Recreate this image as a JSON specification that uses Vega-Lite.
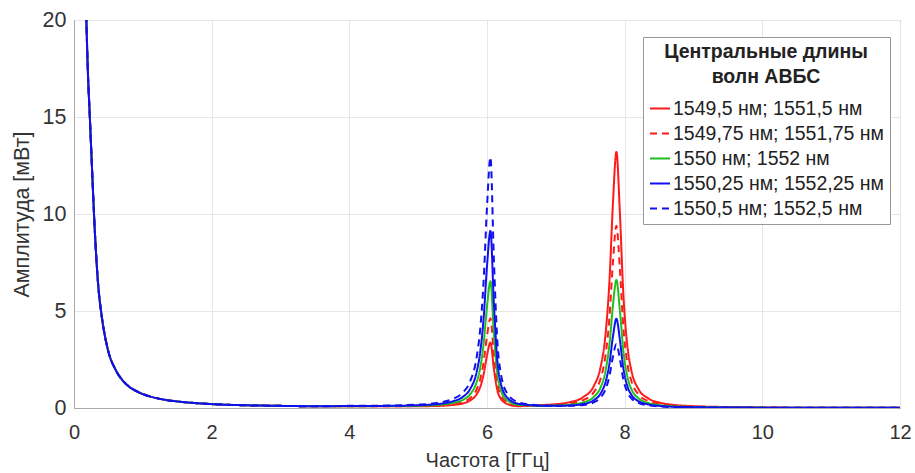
{
  "$schema": "https://vega.github.io/schema/vega-lite/v6.json",
  "width": 826,
  "height": 388,
  "autosize": {"type": "none"},
  "padding": {"left": 74, "top": 20, "right": 15, "bottom": 65},
  "background": "white",
  "config": {
    "font": "Liberation Sans",
    "view": {"stroke": "#666", "strokeWidth": 1},
    "axis": {
      "labelFont": "Liberation Sans",
      "titleFont": "Liberation Sans",
      "labelFontSize": 20,
      "titleFontSize": 20,
      "titleFontWeight": "normal",
      "labelColor": "#333",
      "titleColor": "#333",
      "gridColor": "#e6e6e6",
      "gridWidth": 1,
      "domainColor": "#aaa",
      "ticks": false
    },
    "legend": {
      "labelFont": "Liberation Sans",
      "titleFont": "Liberation Sans"
    }
  },
  "data": {
    "values": [
      {"f":0.17,"s":"a","v":21.5},{"f":0.18,"s":"a","v":20},{"f":0.2,"s":"a","v":17.5},{"f":0.23,"s":"a","v":15},{"f":0.26,"s":"a","v":12.5},{"f":0.3,"s":"a","v":9.3},{"f":0.35,"s":"a","v":6.4},{"f":0.4,"s":"a","v":4.8},{"f":0.45,"s":"a","v":3.7},{"f":0.5,"s":"a","v":2.9},{"f":0.6,"s":"a","v":2.0},{"f":0.7,"s":"a","v":1.45},{"f":0.8,"s":"a","v":1.1},{"f":0.9,"s":"a","v":0.88},{"f":1.0,"s":"a","v":0.72},{"f":1.25,"s":"a","v":0.47},{"f":1.5,"s":"a","v":0.34},{"f":2.0,"s":"a","v":0.2},{"f":2.5,"s":"a","v":0.14},{"f":3.0,"s":"a","v":0.11},{"f":3.5,"s":"a","v":0.09},
      {"f":4.0,"s":"a","v":0.088},{"f":4.5,"s":"a","v":0.084},{"f":5.0,"s":"a","v":0.09},{"f":5.3,"s":"a","v":0.109},{"f":5.5,"s":"a","v":0.157},{"f":5.65,"s":"a","v":0.237},{"f":5.75,"s":"a","v":0.375},{"f":5.85,"s":"a","v":0.71},{"f":5.9,"s":"a","v":1.07},{"f":5.95,"s":"a","v":1.715},{"f":6.0,"s":"a","v":2.71},{"f":6.05,"s":"a","v":3.38},{"f":6.1,"s":"a","v":2.01},{"f":6.15,"s":"a","v":0.918},{"f":6.2,"s":"a","v":0.482},{"f":6.3,"s":"a","v":0.201},{"f":6.45,"s":"a","v":0.094},{"f":6.6,"s":"a","v":0.11},{"f":6.8,"s":"a","v":0.152},{"f":7.0,"s":"a","v":0.197},{"f":7.2,"s":"a","v":0.3},{"f":7.4,"s":"a","v":0.565},{"f":7.55,"s":"a","v":1.12},{"f":7.65,"s":"a","v":2.11},{"f":7.72,"s":"a","v":3.72},{"f":7.78,"s":"a","v":6.615},{"f":7.83,"s":"a","v":10.57},{"f":7.88,"s":"a","v":13.2},{"f":7.93,"s":"a","v":10.1},{"f":7.98,"s":"a","v":5.92},{"f":8.04,"s":"a","v":3.18},{"f":8.1,"s":"a","v":1.9},{"f":8.2,"s":"a","v":0.98},{"f":8.35,"s":"a","v":0.48},{"f":8.5,"s":"a","v":0.285},{"f":8.7,"s":"a","v":0.167},{"f":9.0,"s":"a","v":0.094},{"f":9.5,"s":"a","v":0.05},{"f":10,"s":"a","v":0.03},{"f":11,"s":"a","v":0.01},{"f":12,"s":"a","v":0.01},

      {"f":0.17,"s":"b","v":21.5},{"f":0.18,"s":"b","v":20},{"f":0.2,"s":"b","v":17.5},{"f":0.23,"s":"b","v":15},{"f":0.26,"s":"b","v":12.5},{"f":0.3,"s":"b","v":9.3},{"f":0.35,"s":"b","v":6.4},{"f":0.4,"s":"b","v":4.8},{"f":0.45,"s":"b","v":3.7},{"f":0.5,"s":"b","v":2.9},{"f":0.6,"s":"b","v":2.0},{"f":0.7,"s":"b","v":1.45},{"f":0.8,"s":"b","v":1.1},{"f":0.9,"s":"b","v":0.88},{"f":1.0,"s":"b","v":0.72},{"f":1.25,"s":"b","v":0.47},{"f":1.5,"s":"b","v":0.34},{"f":2.0,"s":"b","v":0.2},{"f":2.5,"s":"b","v":0.14},{"f":3.0,"s":"b","v":0.11},{"f":3.5,"s":"b","v":0.09},
      {"f":4.0,"s":"b","v":0.091},{"f":4.5,"s":"b","v":0.089},{"f":5.0,"s":"b","v":0.101},{"f":5.3,"s":"b","v":0.131},{"f":5.5,"s":"b","v":0.197},{"f":5.65,"s":"b","v":0.31},{"f":5.75,"s":"b","v":0.5},{"f":5.85,"s":"b","v":0.96},{"f":5.9,"s":"b","v":1.46},{"f":5.95,"s":"b","v":2.34},{"f":6.0,"s":"b","v":3.71},{"f":6.05,"s":"b","v":4.63},{"f":6.1,"s":"b","v":2.74},{"f":6.15,"s":"b","v":1.25},{"f":6.2,"s":"b","v":0.655},{"f":6.3,"s":"b","v":0.268},{"f":6.45,"s":"b","v":0.121},{"f":6.6,"s":"b","v":0.115},{"f":6.8,"s":"b","v":0.128},{"f":7.0,"s":"b","v":0.153},{"f":7.2,"s":"b","v":0.223},{"f":7.4,"s":"b","v":0.407},{"f":7.55,"s":"b","v":0.805},{"f":7.65,"s":"b","v":1.51},{"f":7.72,"s":"b","v":2.66},{"f":7.78,"s":"b","v":4.715},{"f":7.83,"s":"b","v":7.535},{"f":7.88,"s":"b","v":9.4},{"f":7.93,"s":"b","v":7.2},{"f":7.98,"s":"b","v":4.22},{"f":8.04,"s":"b","v":2.27},{"f":8.1,"s":"b","v":1.36},{"f":8.2,"s":"b","v":0.7},{"f":8.35,"s":"b","v":0.35},{"f":8.5,"s":"b","v":0.21},{"f":8.7,"s":"b","v":0.122},{"f":9.0,"s":"b","v":0.07},{"f":9.5,"s":"b","v":0.038},{"f":10,"s":"b","v":0.025},{"f":11,"s":"b","v":0.01},{"f":12,"s":"b","v":0.01},

      {"f":0.17,"s":"c","v":21.5},{"f":0.18,"s":"c","v":20},{"f":0.2,"s":"c","v":17.5},{"f":0.23,"s":"c","v":15},{"f":0.26,"s":"c","v":12.5},{"f":0.3,"s":"c","v":9.3},{"f":0.35,"s":"c","v":6.4},{"f":0.4,"s":"c","v":4.8},{"f":0.45,"s":"c","v":3.7},{"f":0.5,"s":"c","v":2.9},{"f":0.6,"s":"c","v":2.0},{"f":0.7,"s":"c","v":1.45},{"f":0.8,"s":"c","v":1.1},{"f":0.9,"s":"c","v":0.88},{"f":1.0,"s":"c","v":0.72},{"f":1.25,"s":"c","v":0.47},{"f":1.5,"s":"c","v":0.34},{"f":2.0,"s":"c","v":0.2},{"f":2.5,"s":"c","v":0.14},{"f":3.0,"s":"c","v":0.11},{"f":3.5,"s":"c","v":0.09},
      {"f":4.0,"s":"c","v":0.096},{"f":4.5,"s":"c","v":0.097},{"f":5.0,"s":"c","v":0.119},{"f":5.3,"s":"c","v":0.164},{"f":5.5,"s":"c","v":0.258},{"f":5.65,"s":"c","v":0.422},{"f":5.75,"s":"c","v":0.69},{"f":5.85,"s":"c","v":1.34},{"f":5.9,"s":"c","v":2.04},{"f":5.95,"s":"c","v":3.29},{"f":6.0,"s":"c","v":5.23},{"f":6.05,"s":"c","v":6.53},{"f":6.1,"s":"c","v":3.865},{"f":6.15,"s":"c","v":1.75},{"f":6.2,"s":"c","v":0.917},{"f":6.3,"s":"c","v":0.371},{"f":6.45,"s":"c","v":0.163},{"f":6.6,"s":"c","v":0.135},{"f":6.8,"s":"c","v":0.115},{"f":7.0,"s":"c","v":0.126},{"f":7.2,"s":"c","v":0.168},{"f":7.4,"s":"c","v":0.29},{"f":7.55,"s":"c","v":0.57},{"f":7.65,"s":"c","v":1.06},{"f":7.72,"s":"c","v":1.87},{"f":7.78,"s":"c","v":3.315},{"f":7.83,"s":"c","v":5.295},{"f":7.88,"s":"c","v":6.6},{"f":7.93,"s":"c","v":5.06},{"f":7.98,"s":"c","v":2.965},{"f":8.04,"s":"c","v":1.6},{"f":8.1,"s":"c","v":0.96},{"f":8.2,"s":"c","v":0.5},{"f":8.35,"s":"c","v":0.25},{"f":8.5,"s":"c","v":0.15},{"f":8.7,"s":"c","v":0.09},{"f":9.0,"s":"c","v":0.052},{"f":9.5,"s":"c","v":0.03},{"f":10,"s":"c","v":0.02},{"f":11,"s":"c","v":0.01},{"f":12,"s":"c","v":0.01},

      {"f":0.17,"s":"d","v":21.5},{"f":0.18,"s":"d","v":20},{"f":0.2,"s":"d","v":17.5},{"f":0.23,"s":"d","v":15},{"f":0.26,"s":"d","v":12.5},{"f":0.3,"s":"d","v":9.3},{"f":0.35,"s":"d","v":6.4},{"f":0.4,"s":"d","v":4.8},{"f":0.45,"s":"d","v":3.7},{"f":0.5,"s":"d","v":2.9},{"f":0.6,"s":"d","v":2.0},{"f":0.7,"s":"d","v":1.45},{"f":0.8,"s":"d","v":1.1},{"f":0.9,"s":"d","v":0.88},{"f":1.0,"s":"d","v":0.72},{"f":1.25,"s":"d","v":0.47},{"f":1.5,"s":"d","v":0.34},{"f":2.0,"s":"d","v":0.2},{"f":2.5,"s":"d","v":0.14},{"f":3.0,"s":"d","v":0.11},{"f":3.5,"s":"d","v":0.09},
      {"f":4.0,"s":"d","v":0.102},{"f":4.5,"s":"d","v":0.108},{"f":5.0,"s":"d","v":0.142},{"f":5.3,"s":"d","v":0.209},{"f":5.5,"s":"d","v":0.341},{"f":5.65,"s":"d","v":0.575},{"f":5.75,"s":"d","v":0.95},{"f":5.85,"s":"d","v":1.86},{"f":5.9,"s":"d","v":2.84},{"f":5.95,"s":"d","v":4.59},{"f":6.0,"s":"d","v":7.31},{"f":6.05,"s":"d","v":9.13},{"f":6.1,"s":"d","v":5.4},{"f":6.15,"s":"d","v":2.44},{"f":6.2,"s":"d","v":1.28},{"f":6.3,"s":"d","v":0.511},{"f":6.45,"s":"d","v":0.22},{"f":6.6,"s":"d","v":0.154},{"f":6.8,"s":"d","v":0.114},{"f":7.0,"s":"d","v":0.11},{"f":7.2,"s":"d","v":0.13},{"f":7.4,"s":"d","v":0.207},{"f":7.55,"s":"d","v":0.4},{"f":7.65,"s":"d","v":0.746},{"f":7.72,"s":"d","v":1.31},{"f":7.78,"s":"d","v":2.315},{"f":7.83,"s":"d","v":3.695},{"f":7.88,"s":"d","v":4.6},{"f":7.93,"s":"d","v":3.53},{"f":7.98,"s":"d","v":2.07},{"f":8.04,"s":"d","v":1.12},{"f":8.1,"s":"d","v":0.67},{"f":8.2,"s":"d","v":0.35},{"f":8.35,"s":"d","v":0.18},{"f":8.5,"s":"d","v":0.11},{"f":8.7,"s":"d","v":0.065},{"f":9.0,"s":"d","v":0.04},{"f":9.5,"s":"d","v":0.024},{"f":10,"s":"d","v":0.018},{"f":11,"s":"d","v":0.01},{"f":12,"s":"d","v":0.01},

      {"f":0.17,"s":"e","v":21.5},{"f":0.18,"s":"e","v":20},{"f":0.2,"s":"e","v":17.5},{"f":0.23,"s":"e","v":15},{"f":0.26,"s":"e","v":12.5},{"f":0.3,"s":"e","v":9.3},{"f":0.35,"s":"e","v":6.4},{"f":0.4,"s":"e","v":4.8},{"f":0.45,"s":"e","v":3.7},{"f":0.5,"s":"e","v":2.9},{"f":0.6,"s":"e","v":2.0},{"f":0.7,"s":"e","v":1.45},{"f":0.8,"s":"e","v":1.1},{"f":0.9,"s":"e","v":0.88},{"f":1.0,"s":"e","v":0.72},{"f":1.25,"s":"e","v":0.47},{"f":1.5,"s":"e","v":0.34},{"f":2.0,"s":"e","v":0.2},{"f":2.5,"s":"e","v":0.14},{"f":3.0,"s":"e","v":0.11},{"f":3.5,"s":"e","v":0.09},
      {"f":4.0,"s":"e","v":0.111},{"f":4.5,"s":"e","v":0.124},{"f":5.0,"s":"e","v":0.176},{"f":5.3,"s":"e","v":0.276},{"f":5.5,"s":"e","v":0.463},{"f":5.65,"s":"e","v":0.799},{"f":5.75,"s":"e","v":1.33},{"f":5.85,"s":"e","v":2.62},{"f":5.9,"s":"e","v":4.01},{"f":5.95,"s":"e","v":6.49},{"f":6.0,"s":"e","v":10.35},{"f":6.05,"s":"e","v":12.93},{"f":6.1,"s":"e","v":7.64},{"f":6.15,"s":"e","v":3.45},{"f":6.2,"s":"e","v":1.8},{"f":6.3,"s":"e","v":0.717},{"f":6.45,"s":"e","v":0.304},{"f":6.6,"s":"e","v":0.19},{"f":6.8,"s":"e","v":0.125},{"f":7.0,"s":"e","v":0.109},{"f":7.2,"s":"e","v":0.111},{"f":7.4,"s":"e","v":0.153},{"f":7.55,"s":"e","v":0.29},{"f":7.65,"s":"e","v":0.54},{"f":7.72,"s":"e","v":0.94},{"f":7.78,"s":"e","v":1.665},{"f":7.83,"s":"e","v":2.655},{"f":7.88,"s":"e","v":3.3},{"f":7.93,"s":"e","v":2.54},{"f":7.98,"s":"e","v":1.49},{"f":8.04,"s":"e","v":0.81},{"f":8.1,"s":"e","v":0.49},{"f":8.2,"s":"e","v":0.26},{"f":8.35,"s":"e","v":0.13},{"f":8.5,"s":"e","v":0.08},{"f":8.7,"s":"e","v":0.05},{"f":9.0,"s":"e","v":0.031},{"f":9.5,"s":"e","v":0.02},{"f":10,"s":"e","v":0.015},{"f":11,"s":"e","v":0.01},{"f":12,"s":"e","v":0.01}
    ]
  },
  "mark": {"type": "line", "clip": true, "strokeWidth": 2, "interpolate": "monotone"},
  "encoding": {
    "x": {
      "field": "f", "type": "quantitative",
      "scale": {"domain": [0, 12], "nice": false, "zero": false},
      "axis": {"values": [0, 2, 4, 6, 8, 10, 12], "title": "Частота [ГГц]", "labelPadding": 14, "titlePadding": 8, "labelFlush": false}
    },
    "y": {
      "field": "v", "type": "quantitative",
      "scale": {"domain": [0, 20], "nice": false},
      "axis": {"values": [0, 5, 10, 15, 20], "title": "Амплитуда [мВт]", "labelPadding": 8, "titlePadding": 9, "labelFontSize": 21.5, "titleFontSize": 21.5}
    },
    "color": {
      "field": "s", "type": "nominal",
      "scale": {"domain": ["a", "b", "c", "d", "e"], "range": ["#ff1a1a", "#ff1a1a", "#1fbf1f", "#1010ee", "#1010ee"]},
      "legend": {
        "title": ["Центральные длины", "волн АВБС"],
        "orient": "none",
        "legendX": 569,
        "legendY": 17,
        "titleFontSize": 19.5,
        "titleFontWeight": "bold",
        "titleColor": "#222",
        "titleAlign": "center",
        "titleAnchor": "middle",
        "titleLineHeight": 25,
        "titlePadding": 10,
        "titleLimit": 400,
        "labelFontSize": 19.5,
        "labelColor": "#222",
        "labelLimit": 400,
        "labelOffset": 2,
        "labelExpr": "datum.value == 'a' ? '1549,5 нм; 1551,5 нм' : datum.value == 'b' ? '1549,75 нм; 1551,75 нм' : datum.value == 'c' ? '1550 нм; 1552 нм' : datum.value == 'd' ? '1550,25 нм; 1552,25 нм' : '1550,5 нм; 1552,5 нм'",
        "symbolType": "stroke",
        "symbolSize": 400,
        "symbolStrokeWidth": 2,
        "rowPadding": 4,
        "fillColor": "white",
        "strokeColor": "#999",
        "padding": 6
      }
    },
    "strokeDash": {
      "field": "s", "type": "nominal",
      "scale": {"domain": ["a", "b", "c", "d", "e"], "range": [[1, 0], [7, 5], [1, 0], [1, 0], [7, 5]]},
      "legend": {
        "title": ["Центральные длины", "волн АВБС"]
      }
    }
  }
}
